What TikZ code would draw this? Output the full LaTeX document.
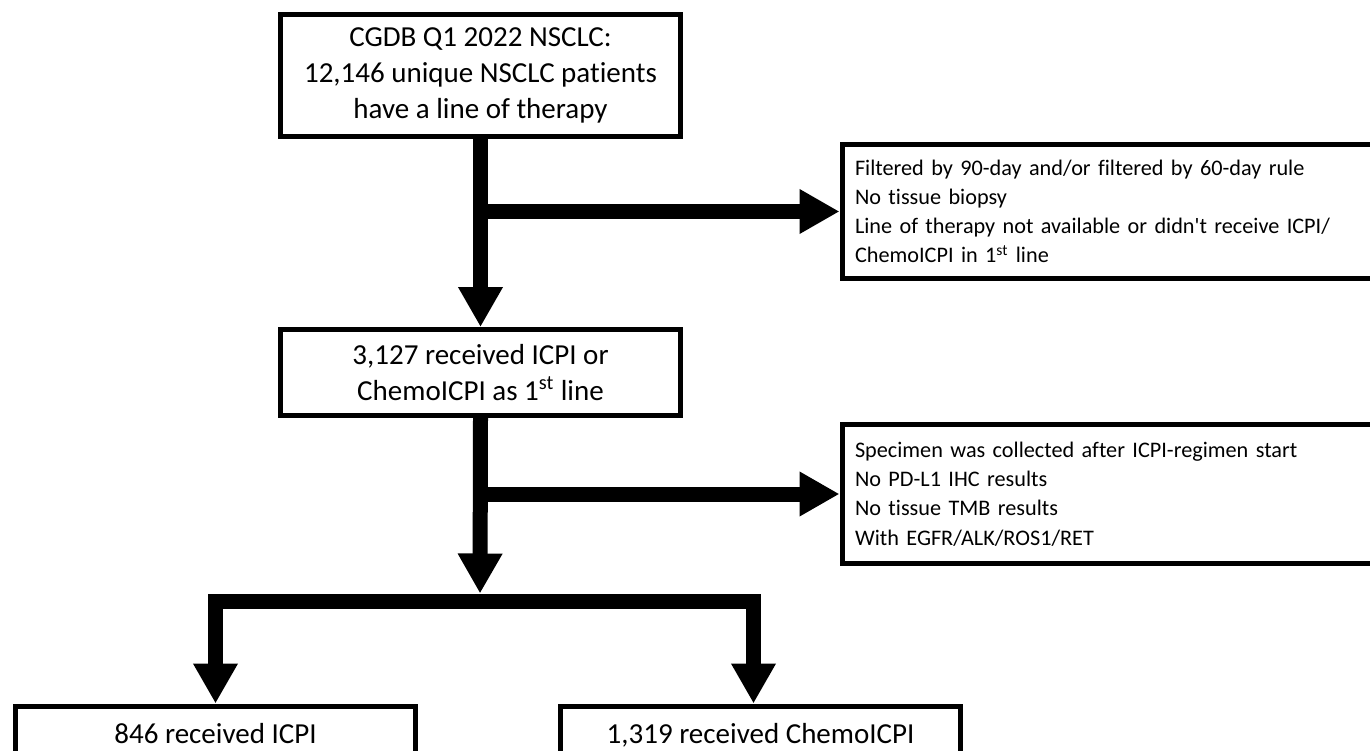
\documentclass[tikz,border=0pt]{standalone}
\usepackage{fontspec}
\setmainfont{Carlito}[Ligatures={TeX,NoCommon}]
\usetikzlibrary{arrows.meta,positioning}

\tikzset{
    stagebox/.style={draw, line width=0.1cm, align=center, minimum width=8cm, inner sep=0.2cm,
        font=\fontsize{16.5}{20.6}\selectfont},
    exclbox/.style={draw, line width=0.1cm, align=left, text width=11cm, anchor=west,
        inner xsep=0.26cm, inner ysep=0.1cm, font=\fontsize{12.65}{16.6}\selectfont},
    armbox/.style={stagebox, anchor=north, text height=0.55cm, text depth=1.5cm},
    flowarrow/.style={line width=0.3cm, -{Triangle[width=0.84cm,length=0.8cm]}},
}

\begin{document}
\begin{tikzpicture}
    \useasboundingbox (0,0) rectangle (27.4,15);

    % Cohort and first line boxes
    \node[stagebox, minimum height=2.44cm] (cohort) at (9.61,13.49)
        {CGDB Q1 2022 NSCLC:\\12,146 unique NSCLC patients\\have a line of therapy};
    \node[stagebox, minimum height=1.72cm] (firstline) at (9.61,7.55)
        {3,127 received ICPI or\\ChemoICPI as 1\textsuperscript{st} line};

    % Exclusion boxes, running off the right edge
    \node[exclbox, minimum height=2.68cm] (exclA) at (16.79,10.77)
        {Filtered by 90-day and/or filtered by 60-day rule\\
         No tissue biopsy\\
         Line of therapy not available or didn\textquotesingle t receive ICPI/\\
         ChemoICPI in 1\textsuperscript{st} line};
    \node[exclbox, minimum height=2.78cm] (exclB) at (16.79,5.12)
        {Specimen was collected after ICPI-regimen start\\
         No PD-L1 IHC results\\
         No tissue TMB results\\
         With EGFR/ALK/ROS1/RET};

    % Treatment arms, running off the bottom edge
    \node[armbox] (icpi) at (4.31,0.93) {846 received ICPI};
    \node[armbox] (chemo) at (15.21,0.93) {1,319 received ChemoICPI};

    \coordinate (split) at (9.6,2.98);

    % Arrows
    \draw[flowarrow] (cohort.south) -- (firstline.north);
    \draw[flowarrow] (exclA.west -| cohort.south) -- (exclA.west);
    \draw[flowarrow, shorten >=0.15cm] (firstline.south) -- (split);
    \draw[flowarrow] (exclB.west -| firstline.south) -- (exclB.west);
    \draw[flowarrow] (split) -| (icpi.north);
    \draw[flowarrow] (split) -| ([xshift=-0.14cm]chemo.north);
\end{tikzpicture}
\end{document}
